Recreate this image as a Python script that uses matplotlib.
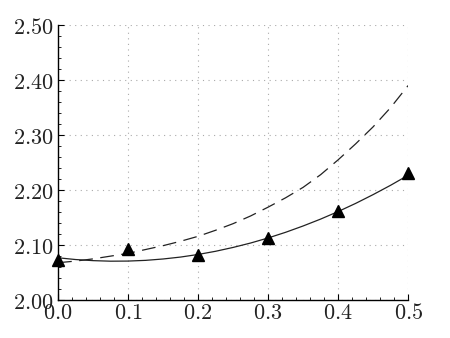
import matplotlib
matplotlib.use("Agg")
import matplotlib.pyplot as plt
from matplotlib.ticker import MultipleLocator, FuncFormatter

plt.rcParams['mathtext.fontset'] = 'cm'
plt.rcParams['font.family'] = 'serif'
plt.rcParams['font.serif'] = ['DejaVu Serif']

# Measured points (triangles)
x_pts = [0.0, 0.1, 0.2, 0.3, 0.4, 0.5]
y_pts = [2.073, 2.093, 2.082, 2.113, 2.162, 2.231]

# Solid fitted curve
x_curve = [0.0, 0.025, 0.05, 0.075, 0.1, 0.125, 0.15, 0.175, 0.2, 0.225, 0.25,
           0.275, 0.3, 0.325, 0.35, 0.375, 0.4, 0.425, 0.45, 0.475, 0.5]
y_solid = [2.077, 2.0738, 2.0718, 2.0708, 2.071, 2.0723, 2.0748, 2.0783, 2.083,
           2.0888, 2.0958, 2.1038, 2.113, 2.1233, 2.1348, 2.1473, 2.161, 2.1758,
           2.1918, 2.2088, 2.227]
# Dashed curve
y_dashed = [2.068, 2.071, 2.075, 2.080, 2.085, 2.092, 2.099, 2.107, 2.116, 2.127,
            2.139, 2.153, 2.169, 2.186, 2.205, 2.228, 2.255, 2.284, 2.315, 2.350,
            2.390]

fig = plt.figure(figsize=(4.5, 3.38), dpi=100)
ax = fig.add_axes([0.129, 0.112, 0.778, 0.814])

ax.plot(x_curve, y_solid, color='#222222', lw=0.9, zorder=3)
ax.plot(x_curve, y_dashed, color='#222222', lw=0.9, dashes=(11, 6), zorder=3)
ax.plot(x_pts, y_pts, linestyle='none', marker='^', color='black', markersize=9,
        zorder=4, clip_on=False)

ax.set_xlim(0.0, 0.5)
ax.set_ylim(2.0, 2.5)
ax.xaxis.set_major_locator(MultipleLocator(0.1))
ax.xaxis.set_minor_locator(MultipleLocator(0.02))
ax.yaxis.set_major_locator(MultipleLocator(0.1))
ax.yaxis.set_minor_locator(MultipleLocator(0.02))

ax.xaxis.set_major_formatter(FuncFormatter(lambda v, p: r'$%.1f$' % v))
ax.yaxis.set_major_formatter(FuncFormatter(lambda v, p: r'$%.2f$' % v))

for s in ['top', 'right']:
    ax.spines[s].set_visible(False)
for s in ['left', 'bottom']:
    ax.spines[s].set_linewidth(1.0)
    ax.spines[s].set_color('black')

ax.tick_params(which='major', direction='in', length=4, width=0.8, labelsize=16,
               pad=3, labelcolor='#222222')
ax.tick_params(which='minor', direction='in', length=2, width=0.6)
ax.tick_params(axis='x', which='major', pad=1)

ax.grid(True, which='major', color='#aaaaaa', linestyle=(0, (1, 4)), lw=0.8)

fig.savefig('out.png', dpi=100)
